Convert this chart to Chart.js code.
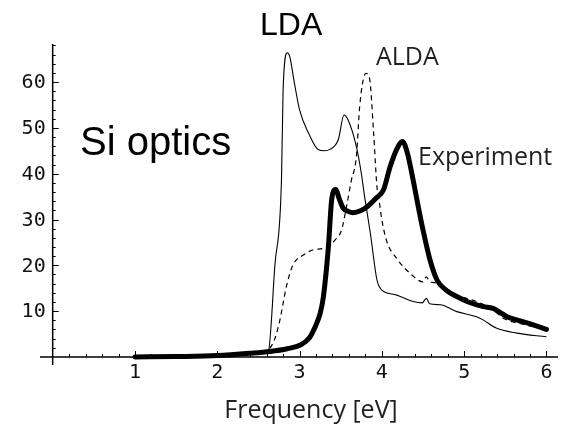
<!DOCTYPE html>
<html>
<head>
<meta charset="utf-8">
<script src="https://cdn.jsdelivr.net/npm/chart.js@4"></script>
<style>
  html, body { margin: 0; padding: 0; background: #fff; }
  #wrap { width: 561px; height: 426px; }
</style>
</head>
<body>
<div id="wrap"><canvas id="myChart" width="561" height="426"></canvas></div>
<script>
const ctx = document.getElementById('myChart').getContext('2d');

// ---- data ----
const expX = [1.0, 1.5, 2.0, 2.4, 2.64, 2.85, 3.01, 3.12, 3.19, 3.25, 3.29, 3.35, 3.39, 3.44, 3.48, 3.53, 3.6, 3.65, 3.74, 3.82, 3.92, 4.02, 4.1, 4.18, 4.25, 4.31, 4.38, 4.44, 4.5, 4.58, 4.67, 4.78, 4.91, 5.05, 5.23, 5.35, 5.43, 5.52, 5.68, 5.84, 6.0];
const expY = [0.0, 0.1, 0.3, 0.8, 1.2, 1.8, 2.6, 4.2, 6.6, 9.5, 13.2, 24, 34.3, 36.6, 34.6, 32.5, 31.7, 31.5, 31.9, 32.8, 34.5, 36.5, 41.5, 45.3, 47, 44.5, 38.6, 33, 27.7, 21.5, 16.8, 14.6, 13.2, 12.0, 11.0, 10.6, 9.8, 8.8, 7.9, 7.0, 6.0];

const ldaX = [2.55, 2.62, 2.7, 2.78, 2.8, 2.85, 2.88, 2.94, 3.0, 3.11, 3.23, 3.3, 3.37, 3.47, 3.54, 3.59, 3.69, 3.75, 3.79, 3.86, 3.94, 3.98, 4.02, 4.18, 4.38, 4.49, 4.54, 4.58, 4.71, 4.91, 5.15, 5.23, 5.39, 5.64, 6.0];
const ldaY = [0.8, 1.2, 20, 38.6, 58.3, 66.4, 65.6, 59.5, 53.9, 48.8, 45.2, 45.0, 45.3, 47.4, 52.8, 51.7, 45.9, 40.1, 35, 27, 16.8, 15, 14.3, 13.5, 12.1, 11.8, 12.8, 11.6, 11.4, 9.9, 8.8, 8.1, 6.3, 5.2, 4.4];

const aldaX = [2.55, 2.62, 2.7, 2.76, 2.84, 2.92, 3.05, 3.17, 3.29, 3.43, 3.51, 3.57, 3.63, 3.69, 3.73, 3.79, 3.81, 3.85, 3.9, 3.94, 3.96, 4.0, 4.06, 4.18, 4.34, 4.5, 4.54, 4.58, 4.67, 4.91, 5.15, 5.35, 5.48, 5.7, 6.0];
const aldaY = [0.8, 1.5, 4, 8, 15.4, 20.1, 22.3, 23.4, 23.7, 25.5, 27.7, 32.8, 38.6, 43.7, 54.6, 61.6, 61.9, 60.8, 48.8, 37.2, 35, 29.9, 25.2, 21.5, 18.3, 16.4, 17.5, 16.5, 16.1, 13.5, 12.1, 10.3, 8.4, 7.2, 6.0];

const xTickLabels = ['1', '2', '3', '4', '5', '6'];
const yTickLabels = ['10', '20', '30', '40', '50', '60'];

const toPoints = (xs, ys) => xs.map((x, i) => ({ x: x, y: ys[i] }));

/*------------------------ axes through the origin ------------------------*/
const originAxes = {
    id: 'originAxes',
    afterDraw(chart) {
        const c = chart.ctx;
        const xs = chart.scales.x, ys = chart.scales.y;
        const area = chart.chartArea;
        const x0 = xs.getPixelForValue(0), y0 = ys.getPixelForValue(0);
        c.save();
        c.strokeStyle = '#000';
        c.lineWidth = 1.5;
        c.beginPath();
        c.moveTo(area.left, y0); c.lineTo(area.right, y0);
        c.moveTo(x0, area.top); c.lineTo(x0, area.bottom);
        c.stroke();

        c.lineWidth = 1;
        c.beginPath();
        for (let i = 1; i <= 30; i++) {
            const px = Math.round(xs.getPixelForValue(i * 0.2)) + 0.5;
            const len = i % 5 === 0 ? 6 : 3;
            c.moveTo(px, y0); c.lineTo(px, y0 - len);
        }
        for (let i = 1; i <= 34; i++) {
            const py = Math.round(ys.getPixelForValue(i * 2)) + 0.5;
            const len = i % 5 === 0 ? 6 : 3;
            c.moveTo(x0, py); c.lineTo(x0 + len, py);
        }
        c.stroke();

        c.fillStyle = '#111';
        c.font = '20px "DejaVu Sans Mono"';
        c.textAlign = 'center';
        c.textBaseline = 'middle';
        xTickLabels.forEach(t => {
            c.fillText(t, xs.getPixelForValue(Number(t)), y0 + 16);
        });
        c.textAlign = 'right';
        yTickLabels.forEach(t => {
            c.fillText(t, x0 - 7, ys.getPixelForValue(Number(t)) + 1);
        });

        // annotations
        c.textAlign = 'left';
        c.textBaseline = 'alphabetic';
        c.fillStyle = '#000';
        c.font = '40px "Liberation Sans"';
        c.fillText('Si optics', 80, 155);
        c.font = '32px "Liberation Sans"';
        c.fillText('LDA', 260, 35);
        c.fillStyle = '#231f20';
        c.font = '25px "Open Sans"';
        c.fillText('ALDA', 376, 65);
        c.fillText('Experiment', 418, 165);
        c.textAlign = 'center';
        c.fillText('Frequency [eV]', 311, 418);
        c.restore();
    }
};

const data = {
    datasets: [
    {
        label: 'LDA',
        data: toPoints(ldaX, ldaY),
        borderColor: '#000',
        borderWidth: 1.1,
        pointRadius: 0,
        cubicInterpolationMode: 'monotone',
    },
    {
        label: 'ALDA',
        data: toPoints(aldaX, aldaY),
        borderColor: '#000',
        borderWidth: 1.2,
        borderDash: [5, 4],
        pointRadius: 0,
        cubicInterpolationMode: 'monotone',
    },
    {
        label: 'Experiment',
        data: toPoints(expX, expY),
        borderColor: '#000',
        borderWidth: 5,
        borderCapStyle: 'round',
        borderJoinStyle: 'round',
        pointRadius: 0,
        cubicInterpolationMode: 'monotone',
    },
    ],
};

const config = {
    type: 'line',
    data: data,
    options: {
        responsive: false,
        animation: false,
        layout: { padding: { left: 40, right: 3, top: 44, bottom: 61 } },
        plugins: {
            legend: { display: false },
            tooltip: { enabled: false },
        },
        scales: {
            x: { type: 'linear', min: -0.154, max: 6.14, display: false },
            y: { type: 'linear', min: -1.75, max: 68.3, display: false },
        },
    },
    plugins: [originAxes],
};

const myChart = new Chart(ctx, config);
</script>
</body>
</html>
